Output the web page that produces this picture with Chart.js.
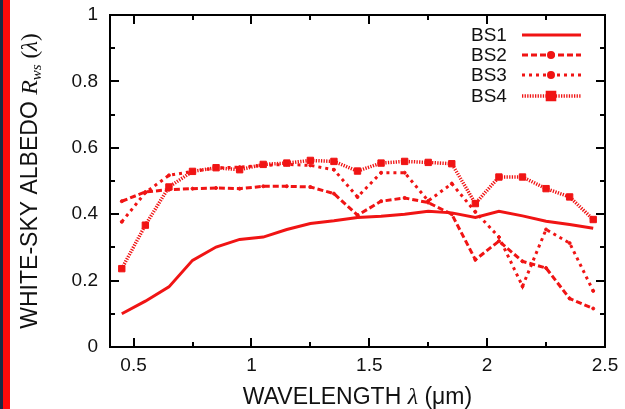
<!DOCTYPE html>
<html>
<head>
<meta charset="utf-8">
<script src="https://cdn.jsdelivr.net/npm/chart.js@4.4.1/dist/chart.umd.min.js"></script>
<style>
    html, body { margin: 0; padding: 0; background: #fff; }
    #wrap { width: 625px; height: 409px; }
</style>
</head>
<body>
<div id="wrap"><canvas id="albedo" width="625" height="409"></canvas></div>
<script>
// wavelength (um) of each sample
const wavelengths = [0.45, 0.55, 0.65, 0.75, 0.85, 0.95, 1.05, 1.15, 1.25, 1.35, 1.45,
                     1.55, 1.65, 1.75, 1.85, 1.95, 2.05, 2.15, 2.25, 2.35, 2.45];

const bs1 = [0.100, 0.138, 0.181, 0.261, 0.301, 0.324, 0.331, 0.354, 0.372, 0.380, 0.390,
             0.394, 0.400, 0.409, 0.404, 0.390, 0.409, 0.395, 0.379, 0.369, 0.358];
const bs2 = [0.439, 0.467, 0.474, 0.477, 0.479, 0.477, 0.484, 0.484, 0.482, 0.462, 0.397,
             0.439, 0.449, 0.435, 0.400, 0.263, 0.319, 0.258, 0.238, 0.146, 0.116];
const bs3 = [0.377, 0.465, 0.517, 0.529, 0.539, 0.542, 0.547, 0.550, 0.547, 0.534, 0.452,
             0.525, 0.525, 0.440, 0.492, 0.407, 0.331, 0.183, 0.354, 0.313, 0.169];
const bs4 = [0.236, 0.367, 0.482, 0.529, 0.540, 0.534, 0.550, 0.554, 0.562, 0.559, 0.530,
             0.554, 0.559, 0.556, 0.552, 0.432, 0.512, 0.512, 0.477, 0.452, 0.384];

const seriesNames = ['BS1', 'BS2', 'BS3', 'BS4'];
const xMajorTicks = [0.5, 1, 1.5, 2, 2.5];
const xMinorTicks = [0.75, 1.25, 1.75, 2.25];
const yMajorTicks = [0, 0.2, 0.4, 0.6, 0.8, 1];
const yMinorTicks = [0.1, 0.3, 0.5, 0.7, 0.9];

const RED = '#f01414';
const SANS = '"Liberation Sans", Arial, sans-serif';
const SERIF = '"Liberation Serif", "Times New Roman", serif';

function toPoints(values) {
    return values.map((v, i) => ({ x: wavelengths[i], y: v }));
}

const lineStyles = [
    { dash: [], width: 3, pointStyle: false, radius: 0, keyRadius: 0 },
    { dash: [6, 3], width: 3, pointStyle: 'circle', radius: 1.5, keyRadius: 2.5 },
    { dash: [3, 4], width: 3, pointStyle: 'circle', radius: 1.5, keyRadius: 2.5 },
    { dash: [1.3, 1.3], width: 3.5, pointStyle: 'rect', radius: 4.5, keyRadius: 5 }
];

const allSeries = [bs1, bs2, bs3, bs4];
const datasets = allSeries.map((values, i) => ({
    label: seriesNames[i],
    data: toPoints(values),
    borderColor: RED,
    backgroundColor: RED,
    borderWidth: lineStyles[i].width,
    borderDash: lineStyles[i].dash,
    pointStyle: lineStyles[i].pointStyle,
    pointRadius: lineStyles[i].radius,
    pointBackgroundColor: RED,
    pointBorderColor: RED,
    pointBorderWidth: 1,
    tension: 0
}));

// white page with the red strip on the left
const pageBackground = {
    id: 'pageBackground',
    beforeDraw(chart) {
        const ctx = chart.ctx;
        ctx.save();
        ctx.fillStyle = '#fff';
        ctx.fillRect(0, 0, chart.width, chart.height);
        ctx.fillStyle = '#1a2a44';
        ctx.fillRect(0, 0, 3, chart.height);
        ctx.fillStyle = '#ff0a0a';
        ctx.fillRect(3, 0, 7, chart.height);
        ctx.restore();
    }
};

// gnuplot style frame with inward ticks on all four sides
const frameTicks = {
    id: 'frameTicks',
    afterDatasetsDraw(chart) {
        const ctx = chart.ctx;
        const area = chart.chartArea;
        const xs = chart.scales.x;
        const ys = chart.scales.y;
        ctx.save();
        ctx.strokeStyle = '#000';
        ctx.lineWidth = 2;
        ctx.setLineDash([]);
        ctx.strokeRect(area.left, area.top, area.right - area.left, area.bottom - area.top);
        ctx.beginPath();
        const xTick = (v, len) => {
            const px = Math.round(xs.getPixelForValue(v));
            ctx.moveTo(px, area.bottom); ctx.lineTo(px, area.bottom - len);
            ctx.moveTo(px, area.top); ctx.lineTo(px, area.top + len);
        };
        const yTick = (v, len) => {
            const py = Math.round(ys.getPixelForValue(v));
            ctx.moveTo(area.left, py); ctx.lineTo(area.left + len, py);
            ctx.moveTo(area.right, py); ctx.lineTo(area.right - len, py);
        };
        xMajorTicks.forEach(v => xTick(v, 9));
        xMinorTicks.forEach(v => xTick(v, 5));
        yMajorTicks.forEach(v => yTick(v, 9));
        yMinorTicks.forEach(v => yTick(v, 5));
        ctx.stroke();
        ctx.restore();
    }
};

function drawPieces(ctx, pieces, cx, baseline) {
    let total = 0;
    pieces.forEach(p => { ctx.font = p.font; total += ctx.measureText(p.text).width; });
    let x = cx - total / 2;
    pieces.forEach(p => {
        ctx.font = p.font;
        ctx.fillText(p.text, x, baseline + (p.dy || 0));
        x += ctx.measureText(p.text).width;
    });
}

// axis titles with italic symbols
const axisTitles = {
    id: 'axisTitles',
    afterDraw(chart) {
        const ctx = chart.ctx;
        const area = chart.chartArea;
        ctx.save();
        ctx.fillStyle = '#111';
        ctx.textAlign = 'left';
        ctx.textBaseline = 'alphabetic';
        drawPieces(ctx, [
            { text: 'WAVELENGTH ', font: `23px ${SANS}` },
            { text: 'λ', font: `italic 24px ${SERIF}` },
            { text: ' (μm)', font: `23px ${SANS}` }
        ], (area.left + area.right) / 2, 404);

        ctx.translate(37, (area.top + area.bottom) / 2);
        ctx.rotate(-Math.PI / 2);
        drawPieces(ctx, [
            { text: 'WHITE-SKY ALBEDO ', font: `23px ${SANS}` },
            { text: 'R', font: `italic 24px ${SERIF}` },
            { text: 'ws', font: `italic 15px ${SERIF}`, dy: 4 },
            { text: ' (', font: `23px ${SERIF}` },
            { text: 'λ', font: `italic 23px ${SERIF}` },
            { text: ')', font: `23px ${SERIF}` }
        ], 0, 0);
        ctx.restore();
    }
};

// key in the top right corner: name then line sample
const keyBox = {
    id: 'keyBox',
    afterDraw(chart) {
        const ctx = chart.ctx;
        const rows = [35, 55, 75, 96];
        ctx.save();
        chart.data.datasets.forEach((ds, i) => {
            const y = rows[i];
            ctx.fillStyle = '#111';
            ctx.font = `19px ${SANS}`;
            ctx.textAlign = 'left';
            ctx.textBaseline = 'middle';
            ctx.fillText(ds.label, 471, y + 1);

            ctx.strokeStyle = RED;
            ctx.lineWidth = ds.borderWidth;
            ctx.setLineDash(ds.borderDash);
            ctx.beginPath();
            ctx.moveTo(522, y);
            ctx.lineTo(581, y);
            ctx.stroke();
            ctx.setLineDash([]);
            if (ds.pointStyle) {
                Chart.helpers.drawPoint(ctx, {
                    pointStyle: ds.pointStyle,
                    radius: lineStyles[i].keyRadius,
                    rotation: 0,
                    borderWidth: 1
                }, 551, y);
                ctx.fillStyle = RED;
                ctx.fill();
            }
        });
        ctx.restore();
    }
};

new Chart(document.getElementById('albedo'), {
    type: 'line',
    data: { datasets },
    options: {
        responsive: false,
        animation: false,
        layout: { padding: { top: 15, right: 20, left: 0, bottom: 0 } },
        plugins: {
            legend: { display: false },
            tooltip: { enabled: false }
        },
        scales: {
            x: {
                type: 'linear',
                min: 0.4,
                max: 2.5,
                grid: { display: false, drawTicks: false },
                border: { display: false },
                afterBuildTicks: (scale) => {
                    scale.ticks = xMajorTicks.map(v => ({ value: v }));
                },
                afterFit: (scale) => {
                    scale.height = 62;
                    scale.paddingLeft = 0;
                    scale.paddingRight = 0;
                },
                ticks: {
                    color: '#111',
                    padding: 7,
                    maxRotation: 0,
                    font: { family: SANS, size: 19 },
                    callback: (v) => String(v)
                }
            },
            y: {
                min: 0,
                max: 1,
                grid: { display: false, drawTicks: false },
                border: { display: false },
                afterBuildTicks: (scale) => {
                    scale.ticks = yMajorTicks.map(v => ({ value: v }));
                },
                afterFit: (scale) => {
                    scale.width = 110;
                    scale.paddingTop = 0;
                    scale.paddingBottom = 0;
                },
                ticks: {
                    color: '#111',
                    padding: 12,
                    font: { family: SANS, size: 19 },
                    callback: (v) => String(Math.round(v * 10) / 10)
                }
            }
        }
    },
    plugins: [pageBackground, frameTicks, axisTitles, keyBox]
});
</script>
</body>
</html>
